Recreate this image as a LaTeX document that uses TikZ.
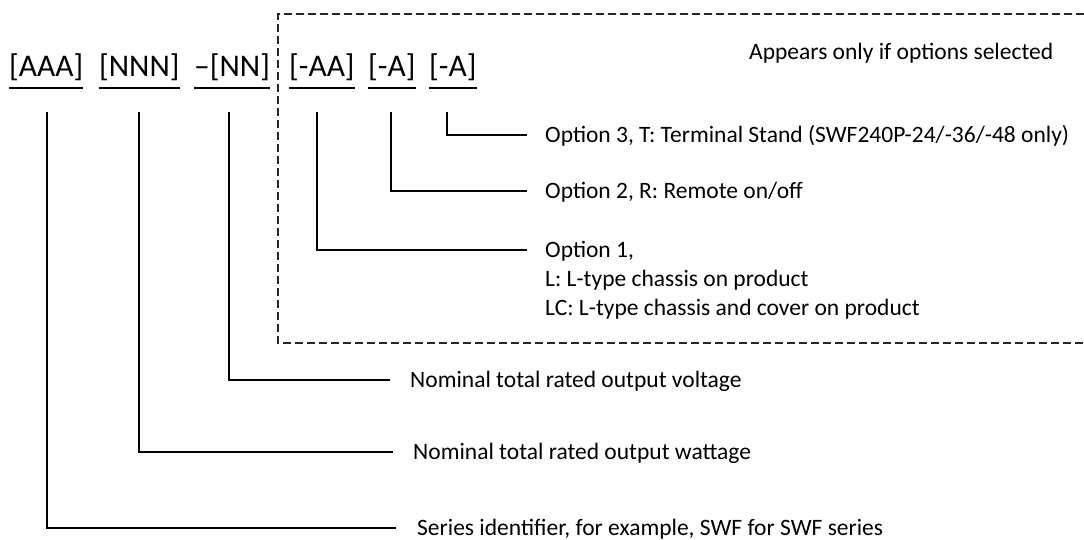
\documentclass[tikz,border=0pt]{standalone}
\usepackage{fontspec}
\setmainfont{Carlito}
\usetikzlibrary{calc}
\begin{document}
\begin{tikzpicture}[x=1pt,y=-1pt,
  hdr/.style={anchor=base west,inner sep=0pt,font=\fontsize{31.5}{36}\selectfont},
  lbl/.style={anchor=west,inner ysep=0pt,inner xsep=18pt,text height=18pt,text depth=3.2pt,font=\fontsize{23.5}{27}\selectfont},
  conn/.style={line width=1.2pt},
  ul/.style={line width=2pt},
  optbox/.style={line width=1.1pt,draw=black!85,dash pattern=on 8pt off 4pt}]
\useasboundingbox (0,0) rectangle (1084,540);

% header codes
\node[hdr] (h1) at (9,77) {[AAA]};
\node[hdr] (h2) at (99,77) {[NNN]};
\node[hdr] (h3) at (194,77) {--[NN]};
\node[hdr] (h4) at (289,77) {[-AA]};
\node[hdr] (h5) at (368,77) {[-A]};
\node[hdr] (h6) at (429,77) {[-A]};
\foreach \h in {h1,h2,h3,h4,h5,h6}
  \draw[ul] ($(\h.base west)+(0,11)$) -- ($(\h.base east)+(0,11)$);

% optional box
\draw[optbox] (1084,14) -- (278,14) -- (278,343) -- (1084,343);
\node[anchor=west,inner sep=0pt,font=\fontsize{23.5}{27}\selectfont] (app) at (749,53) {Appears only if options selected};

% labels
\node[lbl] (o3) at (527,135) {Option 3, T: Terminal Stand (SWF240P-24/-36/-48 only)};
\node[lbl] (o2) at (527,191) {Option 2, R: Remote on/off};
\node[lbl] (o1) at (527,250) {Option 1,};
\node[lbl] (o1b) at ($(o1.west)+(0,29)$) {L: L-type chassis on product};
\node[lbl] (o1c) at ($(o1.west)+(0,58)$) {LC: L-type chassis and cover on product};
\node[lbl,inner xsep=20pt] (lv) at (390,380) {Nominal total rated output voltage};
\node[lbl,inner xsep=20pt] (lw) at (393,452) {Nominal total rated output wattage};
\node[lbl,inner xsep=21pt] (ls) at (396,528) {Series identifier, for example, SWF for SWF series};

% connector tops
\coordinate (t1) at (47,112);
\coordinate (t2) at (139,112);
\coordinate (t3) at (229,112);
\coordinate (t4) at (317,112);
\coordinate (t5) at (391,112);
\coordinate (t6) at (447,112);

\draw[conn] (t1) |- (ls.west);
\draw[conn] (t2) |- (lw.west);
\draw[conn] (t3) |- (lv.west);
\draw[conn] (t4) |- (o1.west);
\draw[conn] (t5) |- (o2.west);
\draw[conn] (t6) |- (o3.west);
\end{tikzpicture}
\end{document}
